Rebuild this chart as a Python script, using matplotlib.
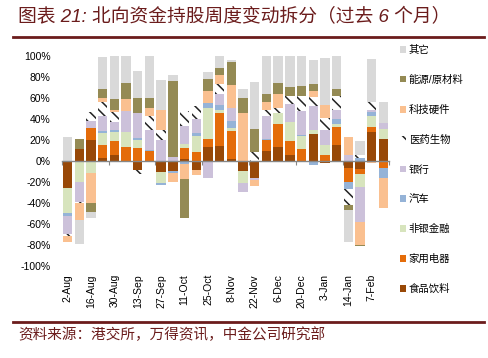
import numpy as np
import matplotlib
matplotlib.use("Agg")
import matplotlib.pyplot as plt
import matplotlib.transforms as mtransforms
from matplotlib.patches import Patch

plt.rcParams['font.family'] = ['Liberation Sans', 'Noto Sans CJK SC', 'DejaVu Sans']
plt.rcParams['hatch.linewidth'] = 1.1

# weekly dates (only every other one is labelled on the axis)
weeks = ['2-Aug', '9-Aug', '16-Aug', '23-Aug', '30-Aug', '6-Sep', '13-Sep', '20-Sep',
         '27-Sep', '4-Oct', '11-Oct', '18-Oct', '25-Oct', '1-Nov', '8-Nov', '15-Nov',
         '22-Nov', '29-Nov', '6-Dec', '13-Dec', '20-Dec', '27-Dec', '3-Jan', '10-Jan',
         '14-Jan', '21-Jan', '7-Feb', '14-Feb']

# sector contribution to weekly change (%), bottom of stack first
food      = [-26, 11.5, 20, 3, 5, 0, -9, 0, -11, -10, 2, -9, 13.5, 14, 2, -10, -16, 9.5, 13, 5, 0, 25.5, -2, 15, -6.5, -8, 27, 21]
appliance = [0, -1.5, 11, 12, 13.7, 13, 11.7, 9, 0, 0, 10.5, 8, 7.5, 31, 26, 0, 0, 10, 22, 14, 11, -1, 5, 17, -13.5, -5, 5, -7]
nonbank   = [-24, -19, -12, 11.7, 8.5, 14, 8, 0, -10, 0, 3, 16, 29, 3, 3, -11, 0, 0, 10, 17.5, 12.7, 4, 10, 3, 0, -12, 11, 9.5]
auto      = [-2.5, 0, 0, 1.6, 1.6, 0, 2, 1.5, -2.5, -1.5, -3, 2, 5, 5, 7, 0, 0, 1.5, 0, 0, 1, -3, 0, 5, -7, 3, 3, -9.5]
bank      = [-17.5, -18.5, 7, 14.3, 8, 20, 24, 19, 20, 4, 18, 14, -16, 11, 12, -9, -2, 22, -1.5, 17.5, 22.6, 23, 14, 8, 5, -33, 2, 5]
pharma    = [-2, -1.5, 8, 13.4, 9.5, 0, -4, 13, 9, 0, 14, 12, 0, 9, 0, 0, 8, 5, 5, 8, 14.5, 8, 12, 14, -15, 2, 8, 0]
tech      = [-5.5, -16, -28, 4.1, 2.2, 11.7, 0, 8, 19, -8.5, -14, -5, 11, 9, 22, 45, -6, 8, 14, 0, 0, 6, 12, 0, 18, -22, -2, -29]
energy    = [0, 9.5, -9, 8.5, 10.5, 15.3, 14, 9.5, 0, 72, -38, 0, 12, 6, 22, 15, 22, 8, 10, 8, 9.5, 7, 0, 6, -5, -1, 0, 0]
other     = [23, -23, -5.7, 30.5, 41, 26, 25.7, 40, 29, 5.5, 0, 0, 6, 12, 2, 8, 45, 36, 26, 30, 28, 22, 45, 32, -30, 14, 41, 20.5]

series = [
    ('食品饮料', food, '#984807', None),
    ('家用电器', appliance, '#E46C0A', None),
    ('非银金融', nonbank, '#D7E4BD', None),
    ('汽车', auto, '#95B3D7', None),
    ('银行', bank, '#CCC1DA', None),
    ('医药生物', pharma, 'white', '\\\\\\'),
    ('科技硬件', tech, '#FAC090', None),
    ('能源/原材料', energy, '#948A54', None),
    ('其它', other, '#D9D9D9', None),
]

W, H = 488, 358
fig = plt.figure(figsize=(W / 100, H / 100), dpi=100)
ax = fig.add_axes([61.7 / W, 1 - 265.7 / H, 327.6 / W, 210 / H])

x = np.arange(len(weeks))
pos_bottom = np.zeros(len(weeks))
neg_bottom = np.zeros(len(weeks))
handles = []
for name, vals, color, hatch in series:
    v = np.array(vals, dtype=float)
    bottom = np.where(v >= 0, pos_bottom, neg_bottom)
    ax.bar(x, v, width=0.8, bottom=bottom, color=color, hatch=hatch,
           edgecolor='#222222' if hatch else color, linewidth=0)
    pos_bottom += np.clip(v, 0, None)
    neg_bottom += np.clip(v, None, 0)
    handles.append(Patch(facecolor=color, hatch=hatch, edgecolor='#222222' if hatch else color,
                         linewidth=0, label=name))

ax.set_xlim(-0.5, len(weeks) - 0.5)
ax.set_ylim(-100, 100)
ax.set_yticks(np.arange(-100, 101, 20))
ax.set_yticklabels([f'{t}%' for t in range(-100, 101, 20)])
ax.tick_params(axis='y', length=0, pad=8, labelsize=7.5)

for s in ['left', 'right', 'top']:
    ax.spines[s].set_visible(False)
ax.spines['bottom'].set_position(('data', 0))
ax.spines['bottom'].set_color('#868686')
ax.spines['bottom'].set_linewidth(1.0)
ax.set_xticks(np.arange(-0.5, len(weeks), 4))
ax.set_xticklabels([])
ax.tick_params(axis='x', length=3, color='#868686', direction='out')

trans = mtransforms.blended_transform_factory(ax.transData, ax.transAxes)
for i in range(0, len(weeks), 2):
    ax.text(i, -0.04, weeks[i], rotation=90, ha='center', va='top',
            fontsize=7.5, transform=trans)

leg = fig.legend(handles=handles[::-1], loc='upper left', bbox_to_anchor=(400 / W, 1 - 45 / H),
                 frameon=False, fontsize=7.5, handlelength=0.6, handleheight=0.6,
                 handletextpad=0.25, labelspacing=1.9, borderpad=0, borderaxespad=0)

dark_red = '#6B1C1C'
fig.text(18 / W, 1 - 17 / H, '图表 21: 北向资金持股周度变动拆分（过去 6 个月）',
         fontsize=13.5, color=dark_red, va='center', ha='left', style='italic')
fig.add_artist(plt.Line2D([13 / W, 484 / W], [1 - 37 / H, 1 - 37 / H], color=dark_red, lw=2))
fig.add_artist(plt.Line2D([13 / W, 484 / W], [1 - 322 / H, 1 - 322 / H], color=dark_red, lw=2))
fig.text(18 / W, 1 - 335 / H, '资料来源：港交所，万得资讯，中金公司研究部',
         fontsize=10.5, color=dark_red, va='center', ha='left', style='italic')

fig.savefig('out.png', dpi=100)
